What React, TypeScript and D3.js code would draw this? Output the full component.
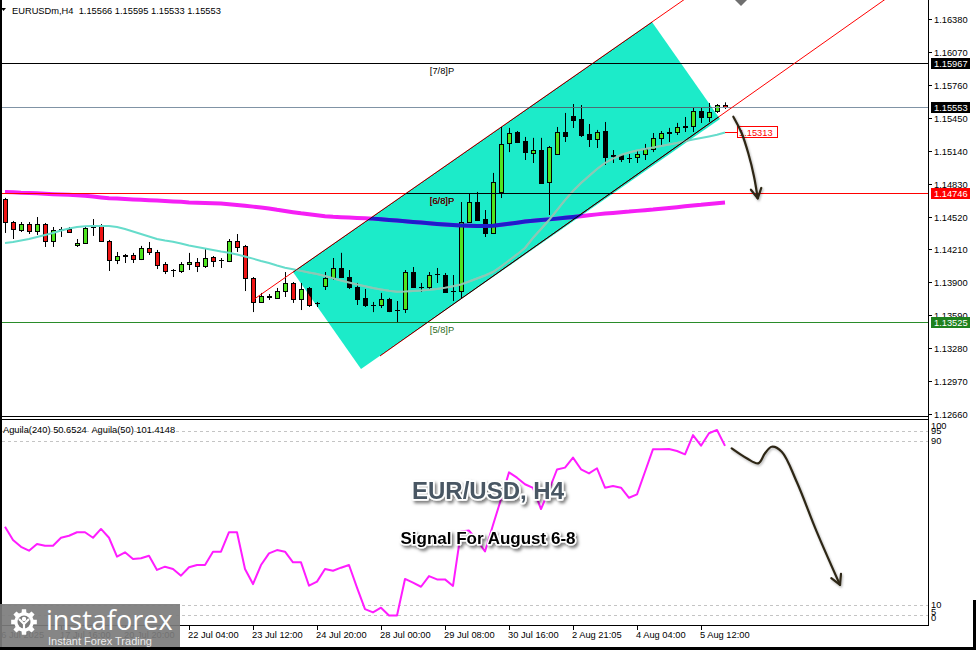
import { useEffect, useRef } from "react";
import * as d3 from "d3";

// EURUSDm H4 candles, bar 0 = left edge, bar 90 = last bar
const openP = [
  1.14685, 1.14468, 1.14393, 1.14449, 1.14384, 1.14449, 1.1429, 1.14402, 1.14402, 1.14252,
  1.14271, 1.14421, 1.1444, 1.1429, 1.1411, 1.14158, 1.14158, 1.1412, 1.14224, 1.14186,
  1.14072, 1.14016, 1.14007, 1.14072, 1.14091, 1.14054, 1.14139, 1.1411, 1.14101, 1.1429,
  1.14243, 1.13941, 1.13715, 1.13771, 1.13753, 1.13818, 1.13894, 1.13743, 1.13847, 1.13706,
  1.13866, 1.13941, 1.14035, 1.1395, 1.13856, 1.13753, 1.13687, 1.13687, 1.13743, 1.13639,
  1.13649, 1.13997, 1.13856, 1.13856, 1.13978, 1.13969, 1.13823, 1.13818, 1.14468, 1.14656,
  1.14496, 1.14365, 1.14751, 1.15212, 1.15316, 1.15231, 1.15118, 1.15146, 1.14845, 1.15109,
  1.15316, 1.15466, 1.15438, 1.15297, 1.1525, 1.15325, 1.15099, 1.15099, 1.15075, 1.1508,
  1.15108, 1.15156, 1.1526, 1.15316, 1.15316, 1.15372, 1.15372, 1.15514, 1.15457, 1.15514,
  1.15566,
];
const highP = [
  1.14695, 1.14478, 1.14468, 1.14468, 1.14515, 1.14459, 1.14421, 1.14421, 1.14421, 1.14308,
  1.14421, 1.14496, 1.14449, 1.14299, 1.14186, 1.14167, 1.14177, 1.14243, 1.1428, 1.14205,
  1.14091, 1.14025, 1.14091, 1.14177, 1.14129, 1.14214, 1.14148, 1.14129, 1.14308, 1.14355,
  1.14252, 1.1395, 1.138, 1.1379, 1.13847, 1.13997, 1.13903, 1.13894, 1.13856, 1.13715,
  1.13997, 1.14129, 1.14177, 1.14016, 1.13894, 1.13837, 1.13715, 1.138, 1.13753, 1.13724,
  1.14016, 1.14044, 1.13894, 1.13997, 1.14035, 1.13988, 1.13969, 1.14656, 1.14741, 1.14751,
  1.14581, 1.1493, 1.15363, 1.15354, 1.15325, 1.15269, 1.1526, 1.1526, 1.15184, 1.15363,
  1.15495, 1.15579, 1.1557, 1.15391, 1.15335, 1.1541, 1.15146, 1.15108, 1.15108, 1.15146,
  1.15203, 1.15306, 1.15325, 1.15354, 1.15401, 1.15457, 1.15551, 1.15551, 1.15589, 1.15579,
  1.15595,
];
const lowP = [
  1.14365, 1.14308, 1.14374, 1.14355, 1.14346, 1.14233, 1.14233, 1.14327, 1.14365, 1.14233,
  1.14261, 1.14337, 1.1428, 1.14007, 1.14072, 1.14082, 1.14082, 1.1411, 1.14158, 1.14025,
  1.13978, 1.1395, 1.13988, 1.14016, 1.13997, 1.14035, 1.14044, 1.14035, 1.14091, 1.14186,
  1.13818, 1.1362, 1.13706, 1.13734, 1.13743, 1.13762, 1.13706, 1.13639, 1.13668, 1.13668,
  1.13828, 1.13922, 1.13941, 1.13837, 1.13687, 1.13668, 1.1362, 1.13658, 1.1362, 1.1352,
  1.13611, 1.13847, 1.13809, 1.13837, 1.13894, 1.138, 1.13724, 1.13753, 1.14459, 1.14478,
  1.14327, 1.14355, 1.14694, 1.15127, 1.15212, 1.15052, 1.15024, 1.14826, 1.14534, 1.15099,
  1.15222, 1.15354, 1.15269, 1.15175, 1.15165, 1.15005, 1.15024, 1.15033, 1.15024, 1.15024,
  1.15052, 1.15127, 1.15193, 1.15222, 1.15288, 1.15316, 1.15316, 1.15401, 1.1541, 1.15495,
  1.15533,
];
const closeP = [
  1.14468, 1.14402, 1.14449, 1.14384, 1.14449, 1.1429, 1.14393, 1.14393, 1.14374, 1.14271,
  1.14412, 1.1444, 1.1429, 1.1411, 1.14148, 1.14148, 1.1412, 1.14224, 1.14186, 1.14063,
  1.14007, 1.14012, 1.14072, 1.14091, 1.14054, 1.14129, 1.14101, 1.14106, 1.1429, 1.14233,
  1.13941, 1.13715, 1.13771, 1.13762, 1.13818, 1.13894, 1.13743, 1.13837, 1.13687, 1.13701,
  1.13941, 1.14035, 1.1395, 1.13856, 1.13743, 1.13687, 1.13682, 1.13743, 1.1363, 1.13635,
  1.13997, 1.13856, 1.13852, 1.13969, 1.13974, 1.13809, 1.13818, 1.14468, 1.14656, 1.14487,
  1.14365, 1.14845, 1.15203, 1.15306, 1.15222, 1.15127, 1.15146, 1.14836, 1.15175, 1.15316,
  1.15278, 1.15429, 1.15288, 1.1525, 1.15316, 1.1508, 1.15094, 1.15061, 1.15071, 1.15108,
  1.15156, 1.1526, 1.15306, 1.15311, 1.15363, 1.15367, 1.15514, 1.15457, 1.15504, 1.1557,
  1.15553,
];

// slow moving average (thick magenta)
const maSlow = [
  1.14751, 1.14748, 1.14744, 1.14742, 1.14738, 1.14734, 1.1473, 1.14727, 1.14725, 1.14721,
  1.14715, 1.14708, 1.147, 1.14693, 1.14689, 1.14685, 1.14681, 1.14678, 1.14674, 1.1467,
  1.14667, 1.14662, 1.14658, 1.14653, 1.1465, 1.14647, 1.14645, 1.14642, 1.14635, 1.14629,
  1.14621, 1.14613, 1.14605, 1.14596, 1.14583, 1.14572, 1.14561, 1.1455, 1.14541, 1.14532,
  1.14523, 1.14517, 1.14514, 1.1451, 1.14506, 1.14503, 1.145, 1.14495, 1.14488, 1.14482,
  1.14476, 1.14469, 1.14463, 1.14456, 1.1445, 1.14445, 1.1444, 1.14436, 1.14433, 1.14431,
  1.14431, 1.14434, 1.14442, 1.14451, 1.14461, 1.14472, 1.1448, 1.14486, 1.14493, 1.145,
  1.14508, 1.14515, 1.14523, 1.14532, 1.1454, 1.14548, 1.14554, 1.14561, 1.14566, 1.14573,
  1.14579, 1.14585, 1.14593, 1.146, 1.14608, 1.14616, 1.14624, 1.1463, 1.14638, 1.14645,
  1.14651,
];
// fast moving average (thin turquoise)
const maFast = [
  1.14271, 1.1428, 1.14294, 1.14308, 1.14327, 1.14346, 1.14365, 1.14388, 1.14407, 1.14421,
  1.14428, 1.14431, 1.14431, 1.14431, 1.14421, 1.14402, 1.14379, 1.14355, 1.14332, 1.14308,
  1.14294, 1.14283, 1.14266, 1.14247, 1.14233, 1.14219, 1.14205, 1.14191, 1.14179, 1.14163,
  1.14144, 1.14123, 1.14101, 1.14082, 1.14058, 1.14037, 1.14023, 1.14008, 1.13992, 1.13978,
  1.1396, 1.13938, 1.13917, 1.13898, 1.1388, 1.13863, 1.13847, 1.13833, 1.1382, 1.13812,
  1.13814, 1.13818, 1.13823, 1.1383, 1.13837, 1.13849, 1.13863, 1.1388, 1.13908, 1.13936,
  1.13964, 1.13997, 1.14049, 1.14106, 1.14163, 1.14224, 1.14318, 1.14402, 1.14487, 1.14581,
  1.14675, 1.1476, 1.14836, 1.14902, 1.14968, 1.15024, 1.15066, 1.15099, 1.15123, 1.15142,
  1.15156, 1.1517, 1.15184, 1.15198, 1.15212, 1.15228, 1.15245, 1.15259, 1.15274, 1.1529,
  1.15311,
];
const maFastLabel = 1.15313;

// Aguila oscillator, 0..100
const aguila = [
  48.2, 41.7, 38.4, 36.5, 39.8, 38.9, 38.9, 42.8, 43.8, 45.5,
  45.5, 42.8, 47.1, 42.8, 33.6, 35.7, 32.4, 32.8, 34.0, 27.1,
  28.7, 27.6, 24.3, 28.4, 29.5, 29.5, 36.0, 36.0, 45.5, 45.5,
  27.6, 20.2, 29.5, 35.2, 36.8, 36.0, 30.8, 30.8, 19.4, 21.4,
  27.6, 26.7, 28.2, 29.5, 18.5, 8.0, 6.4, 8.7, 4.9, 4.9,
  22.7, 20.9, 18.9, 24.1, 22.5, 22.5, 19.3, 45.8, 46.3, 41.7,
  36.1, 49.0, 61.6, 74.7, 72.1, 68.9, 67.1, 56.8, 66.1, 76.1,
  77.0, 81.9, 76.2, 74.2, 76.7, 67.2, 68.0, 67.2, 62.3, 64.0,
  75.0, 86.0, 86.0, 86.1, 85.1, 83.5, 92.9, 87.7, 93.8, 95.4,
  87.6,
];
const aguilaLevels = [95, 90, 10, 5];
const aguilaTicks = [100, 95, 90, 10, 5, 0];

const priceTicks = [
  1.1638, 1.1607, 1.1576, 1.1545, 1.1514, 1.1483, 1.1452, 1.1421, 1.139, 1.1359, 1.1328,
  1.1297, 1.1266,
];
const timeBars = [-1, 7, 15, 23, 31, 39, 47, 55, 63, 71, 79, 87];
const timeLabels = [
  "16 Jul 2025", "17 Jul 16:00", "20 Jul 20:00", "22 Jul 04:00", "23 Jul 12:00",
  "24 Jul 20:00", "28 Jul 00:00", "29 Jul 08:00", "30 Jul 16:00", "2 Aug 21:05",
  "4 Aug 04:00", "5 Aug 12:00",
];

// horizontal levels: [7/8] line, bid, [6/8] line, [5/8] line
const levelPrices = [1.15967, 1.15553, 1.14746, 1.13525];
const murreyPrices = [1.15967, 1.14746, 1.13525];
const murreyLabels = ["[7/8]P", "[6/8]P", "[5/8]P"];
const murreyBar = 53.1;

// rising channel rectangle and its two trendlines (bar, price)
const channelBars = [36, 80.875, 89.375, 44.5];
const channelPrices = [1.13997, 1.16352, 1.15438, 1.13084];
const upperTrendBars = [31, 80.875];
const upperTrendPrices = [1.13734, 1.16352];
const lowerTrendBars = [46.875, 89.375];
const lowerTrendPrices = [1.13206, 1.15467];

// hand drawn forecast arrows
const arrowPriceBars = [91.04, 92.09, 92.91, 93.63, 94.09];
const arrowPrices = [1.1546, 1.15304, 1.15115, 1.14895, 1.14691];
const arrowIndBars = [90.84, 92.71, 94.16, 95.0, 95.84, 97.09, 98.96, 101.46, 104.375];
const arrowIndValues = [86.4, 81.6, 79.1, 84.0, 87.2, 84.8, 70.1, 45.8, 19.8];

const W = 976;
const H = 650;

export default function App() {
  const ref = useRef<SVGSVGElement | null>(null);

  useEffect(() => {
    const svg = d3.select(ref.current);
    svg.selectAll("*").remove();

    const font = "'Liberation Sans', Arial, sans-serif";
    const fs = 9.3;
    const plotL = 2;
    const plotR = 928;
    const mainB = 416;
    const indT = 420;
    const indB = 626;

    const x = d3.scaleLinear().domain([0, 90]).range([5, 725]);
    const y = d3.scaleLinear().domain([1.1266, 1.1638]).range([414, 19]);
    const yi = d3.scaleLinear().domain([0, 100]).range([625.5, 420.5]);
    const bars = d3.range(openP.length);
    const crisp = (v: number) => Math.round(v) + 0.5;

    svg.append("rect").attr("width", W).attr("height", H).attr("fill", "#fff");

    const defs = svg.append("defs");
    defs
      .append("clipPath")
      .attr("id", "clipMain")
      .append("rect")
      .attr("x", plotL)
      .attr("y", 0)
      .attr("width", plotR - plotL)
      .attr("height", mainB);
    defs
      .append("clipPath")
      .attr("id", "clipInd")
      .append("rect")
      .attr("x", plotL)
      .attr("y", indT)
      .attr("width", plotR - plotL)
      .attr("height", indB - indT);
    const chan = channelBars.map((b, i) => [x(b), y(channelPrices[i])]);
    const chanD = "M" + chan.map((p) => p.join(",")).join("L") + "Z";
    defs.append("clipPath").attr("id", "clipChan").append("path").attr("d", chanD);

    const tShadow = defs
      .append("filter")
      .attr("id", "txtShadow")
      .attr("x", "-10%")
      .attr("y", "-40%")
      .attr("width", "125%")
      .attr("height", "190%");
    tShadow
      .append("feDropShadow")
      .attr("dx", 2)
      .attr("dy", 2.5)
      .attr("stdDeviation", 1.6)
      .attr("flood-color", "#000")
      .attr("flood-opacity", 0.5);
    const aShadow = defs
      .append("filter")
      .attr("id", "arrShadow")
      .attr("x", "-20%")
      .attr("y", "-20%")
      .attr("width", "140%")
      .attr("height", "140%");
    aShadow
      .append("feDropShadow")
      .attr("dx", 1)
      .attr("dy", 1.5)
      .attr("stdDeviation", 1)
      .attr("flood-color", "#000")
      .attr("flood-opacity", 0.3);

    // ---------- main price panel ----------
    const main = svg.append("g").attr("clip-path", "url(#clipMain)");
    main.append("path").attr("d", chanD).attr("fill", "#1cebc9");

    type Pal = Record<string, string>;
    const outside: Pal = {
      bull: "#4fe41f",
      bear: "#ee1414",
      slow: "#f51ff5",
      fast: "#66dccb",
      red: "#ff0000",
      bid: "#8093a5",
      green: "#2a8c2a",
      greenText: "#2d6a1e",
      black: "#000",
    };
    // colours the terminal shows where objects overlap the filled channel
    const inside: Pal = {
      bull: "#4fe41f",
      bear: "#000",
      slow: "#1d1dcc",
      fast: "#8ec6b3",
      red: "#000",
      bid: "#4d6d74",
      green: "#1f5a1f",
      greenText: "#1f4a14",
      black: "#000",
    };

    const ray = (bs: number[], ps: number[]) => {
      const x0 = x(bs[0]);
      const y0 = y(ps[0]);
      const x1 = x(bs[1]);
      const y1 = y(ps[1]);
      const t = (y0 + 2) / (y0 - y1);
      return [x0, y0, x0 + (x1 - x0) * t, -2];
    };

    const drawLayer = (g: d3.Selection<SVGGElement, unknown, null, undefined>, c: Pal) => {
      bars.forEach((i) => {
        const cx = crisp(x(i));
        const o = openP[i];
        const cl = closeP[i];
        g.append("line")
          .attr("x1", cx)
          .attr("x2", cx)
          .attr("y1", y(highP[i]))
          .attr("y2", y(lowP[i]))
          .attr("stroke", "#000");
        const top = crisp(y(Math.max(o, cl)));
        const bot = crisp(y(Math.min(o, cl)));
        if (bot - top < 1) {
          g.append("line")
            .attr("x1", cx - 2.5)
            .attr("x2", cx + 2.5)
            .attr("y1", top)
            .attr("y2", top)
            .attr("stroke", "#000");
        } else {
          g.append("rect")
            .attr("x", cx - 2)
            .attr("y", top)
            .attr("width", 4)
            .attr("height", bot - top)
            .attr("fill", cl >= o ? c.bull : c.bear)
            .attr("stroke", "#000");
        }
      });

      const line = d3
        .line<number>()
        .x((_, i) => x(i))
        .y((v) => y(v));
      g.append("path")
        .attr("d", line(maSlow) as string)
        .attr("fill", "none")
        .attr("stroke", c.slow)
        .attr("stroke-width", 4);
      g.append("path")
        .attr("d", line(maFast) as string)
        .attr("fill", "none")
        .attr("stroke", c.fast)
        .attr("stroke-width", 2);

      const levelColors = [c.black, c.bid, c.red, c.green];
      levelPrices.forEach((p, k) => {
        const yy = crisp(y(p));
        g.append("line")
          .attr("x1", plotL)
          .attr("x2", plotR)
          .attr("y1", yy)
          .attr("y2", yy)
          .attr("stroke", levelColors[k]);
      });

      [ray(upperTrendBars, upperTrendPrices), ray(lowerTrendBars, lowerTrendPrices)].forEach(
        ([x1, y1, x2, y2]) => {
          g.append("line")
            .attr("x1", x1)
            .attr("y1", y1)
            .attr("x2", x2)
            .attr("y2", y2)
            .attr("stroke", c.red);
        }
      );

      const murreyColors = [c.black, c.red, c.greenText];
      murreyPrices.forEach((p, k) => {
        g.append("text")
          .attr("x", x(murreyBar))
          .attr("y", y(p) + 11)
          .attr("font-family", font)
          .attr("font-size", fs)
          .attr("fill", murreyColors[k])
          .text(murreyLabels[k]);
      });
    };

    drawLayer(main.append("g"), outside);
    drawLayer(main.append("g").attr("clip-path", "url(#clipChan)"), inside);

    // fast MA value label
    const lastX = x(bars.length - 1);
    const labY = y(maFastLabel);
    main
      .append("line")
      .attr("x1", lastX)
      .attr("x2", lastX + 12)
      .attr("y1", crisp(labY))
      .attr("y2", crisp(labY))
      .attr("stroke", "#ff0000");
    main
      .append("rect")
      .attr("x", crisp(lastX + 12))
      .attr("y", crisp(labY - 6))
      .attr("width", 40)
      .attr("height", 11)
      .attr("fill", "#fff")
      .attr("stroke", "#ff0000");
    main
      .append("text")
      .attr("x", lastX + 14)
      .attr("y", labY + 3.4)
      .attr("font-family", font)
      .attr("font-size", fs)
      .attr("fill", "#ff0000")
      .text(maFastLabel.toFixed(5));

    const arrowHead = (pts: number[][]) => {
      const [tx, ty] = pts[pts.length - 1];
      const [px, py] = pts[pts.length - 2];
      const a = Math.atan2(ty - py, tx - px);
      const len = 11;
      const spread = 0.5;
      return [
        [tx - len * Math.cos(a - spread), ty - len * Math.sin(a - spread)],
        [tx, ty],
        [tx - len * Math.cos(a + spread), ty - len * Math.sin(a + spread)],
      ];
    };
    const drawArrow = (
      g: d3.Selection<SVGGElement, unknown, null, undefined>,
      pts: number[][]
    ) => {
      const a = g.append("g").attr("filter", "url(#arrShadow)");
      const curve = d3
        .line<number[]>()
        .x((d) => d[0])
        .y((d) => d[1])
        .curve(d3.curveCatmullRom.alpha(0.5));
      a.append("path")
        .attr("d", curve(pts) as string)
        .attr("fill", "none")
        .attr("stroke", "#2d2714")
        .attr("stroke-width", 2.2)
        .attr("stroke-linecap", "round");
      a.append("path")
        .attr("d", d3.line()(arrowHead(pts) as [number, number][]) as string)
        .attr("fill", "none")
        .attr("stroke", "#2d2714")
        .attr("stroke-width", 2.2)
        .attr("stroke-linecap", "round")
        .attr("stroke-linejoin", "round");
    };
    drawArrow(
      main,
      arrowPriceBars.map((b, i) => [x(b), y(arrowPrices[i])])
    );

    // ---------- Aguila panel ----------
    const ind = svg.append("g").attr("clip-path", "url(#clipInd)");
    aguilaLevels.forEach((v) => {
      const yy = crisp(yi(v));
      ind
        .append("line")
        .attr("x1", plotL)
        .attr("x2", plotR)
        .attr("y1", yy)
        .attr("y2", yy)
        .attr("stroke", "#c4c4c4")
        .attr("stroke-dasharray", "3,3");
    });
    ind
      .append("path")
      .attr(
        "d",
        d3
          .line<number>()
          .x((_, i) => x(i))
          .y((v) => yi(v))(aguila) as string
      )
      .attr("fill", "none")
      .attr("stroke", "#ff1cff")
      .attr("stroke-width", 2)
      .attr("stroke-linejoin", "round");
    ind
      .append("text")
      .attr("x", 3)
      .attr("y", 432.5)
      .attr("font-family", font)
      .attr("font-size", fs)
      .attr("fill", "#000")
      .style("white-space", "pre")
      .text("Aguila(240) 50.6524  Aguila(50) 101.4148");
    drawArrow(
      ind,
      arrowIndBars.map((b, i) => [x(b), yi(arrowIndValues[i])])
    );

    // ---------- frames and axes ----------
    const frame = svg.append("g").attr("stroke", "#000");
    frame.append("line").attr("x1", plotR + 0.5).attr("x2", plotR + 0.5).attr("y1", 0).attr("y2", indB);
    [mainB + 0.5, indT - 0.5, indB - 0.5].forEach((yy) => {
      frame.append("line").attr("x1", 0).attr("x2", plotR + 1).attr("y1", yy).attr("y2", yy);
    });

    const axisText = (sel: d3.Selection<SVGTextElement, unknown, null, undefined>) =>
      sel.attr("font-family", font).attr("font-size", fs);

    priceTicks.forEach((p) => {
      const yy = crisp(y(p));
      svg
        .append("line")
        .attr("x1", plotR)
        .attr("x2", plotR + 4)
        .attr("y1", yy)
        .attr("y2", yy)
        .attr("stroke", "#000");
      axisText(svg.append("text"))
        .attr("x", 934)
        .attr("y", yy + 3.3)
        .attr("fill", "#000")
        .text(p.toFixed(5));
    });

    const boxColors = ["#000", "#000", "#ff0000", "#1d811d"];
    levelPrices.forEach((p, k) => {
      const yy = y(p);
      svg
        .append("rect")
        .attr("x", 931)
        .attr("y", Math.round(yy) - 5)
        .attr("width", 39)
        .attr("height", 11)
        .attr("fill", boxColors[k]);
      axisText(svg.append("text"))
        .attr("x", 934)
        .attr("y", Math.round(yy) + 3.8)
        .attr("fill", "#fff")
        .text(p.toFixed(5));
    });

    // oscillator scale labels, squeezed at the panel ends like the terminal does
    aguilaTicks.forEach((v) => {
      const yy = v === 5 ? yi(v) - 4 : Math.min(Math.max(yi(v), 426), 618);
      axisText(svg.append("text"))
        .attr("x", 931)
        .attr("y", yy + 3.3)
        .attr("fill", "#000")
        .text(String(v));
    });

    timeBars.forEach((b, k) => {
      const xx = crisp(x(b));
      svg
        .append("line")
        .attr("x1", xx)
        .attr("x2", xx)
        .attr("y1", indB)
        .attr("y2", indB + 4)
        .attr("stroke", "#000");
      axisText(svg.append("text"))
        .attr("x", xx - 1.5)
        .attr("y", 637.5)
        .attr("fill", "#000")
        .text(timeLabels[k]);
    });

    // header
    svg
      .append("path")
      .attr("d", "M1,8L6,8L3.5,11Z")
      .attr("fill", "#000");
    axisText(svg.append("text"))
      .attr("x", 12)
      .attr("y", 13.5)
      .attr("fill", "#000")
      .style("white-space", "pre")
      .text("EURUSDm,H4  1.15566 1.15595 1.15533 1.15553");
    svg
      .append("path")
      .attr("d", `M${x(92) - 6},0L${x(92) + 6},0L${x(92)},6Z`)
      .attr("fill", "#6f6f6f");

    // titles
    svg
      .append("text")
      .attr("x", 488)
      .attr("y", 499)
      .attr("text-anchor", "middle")
      .attr("font-family", font)
      .attr("font-weight", 700)
      .attr("font-size", 24)
      .attr("fill", "#485764")
      .attr("stroke", "#fff")
      .attr("stroke-width", 3.5)
      .attr("stroke-linejoin", "round")
      .attr("paint-order", "stroke")
      .attr("filter", "url(#txtShadow)")
      .text("EUR/USD, H4");
    svg
      .append("text")
      .attr("x", 488)
      .attr("y", 544)
      .attr("text-anchor", "middle")
      .attr("font-family", font)
      .attr("font-weight", 700)
      .attr("font-size", 17)
      .attr("fill", "#000")
      .attr("stroke", "#fff")
      .attr("stroke-width", 3)
      .attr("stroke-linejoin", "round")
      .attr("paint-order", "stroke")
      .attr("filter", "url(#txtShadow)")
      .text("Signal For August 6-8");

    // outer border
    svg.append("rect").attr("x", 0).attr("y", 0).attr("width", 2).attr("height", H).attr("fill", "#000");
    svg.append("rect").attr("x", 0).attr("y", 647).attr("width", W).attr("height", 3).attr("fill", "#000");
    svg.append("rect").attr("x", 973).attr("y", 600).attr("width", 3).attr("height", 50).attr("fill", "#000");

    // broker logo
    const logo = svg.append("g");
    logo
      .append("rect")
      .attr("x", 0)
      .attr("y", 604)
      .attr("width", 180)
      .attr("height", 43)
      .attr("fill", "#7c7c7c")
      .attr("opacity", 0.92);
    const gx = 24;
    const gy = 622;
    const teeth = 8;
    const step = Math.PI / teeth;
    const gearPts: [number, number][] = [];
    for (let k = 0; k < teeth; k++) {
      const a = k * 2 * step;
      gearPts.push([a - step * 0.42, 13], [a + step * 0.42, 13], [a + step * 0.62, 9.8], [a + step * 1.38, 9.8]);
    }
    logo
      .append("path")
      .attr(
        "d",
        d3
          .lineRadial<[number, number]>()
          .angle((d) => d[0])
          .radius((d) => d[1])
          .curve(d3.curveLinearClosed)(gearPts) as string
      )
      .attr("transform", `translate(${gx},${gy})`)
      .attr("fill", "#fff");
    logo.append("circle").attr("cx", gx).attr("cy", gy).attr("r", 6.5).attr("fill", "#7c7c7c");
    logo.append("circle").attr("cx", gx).attr("cy", gy - 3).attr("r", 2.2).attr("fill", "#fff");
    logo
      .append("path")
      .attr("d", `M${gx - 5},${gy - 3}L${gx},${gy + 2}L${gx + 5},${gy - 3}M${gx},${gy + 2}L${gx},${gy + 9}`)
      .attr("stroke", "#fff")
      .attr("stroke-width", 2.2)
      .attr("fill", "none");
    logo
      .append("text")
      .attr("x", 46)
      .attr("y", 630)
      .attr("font-family", "'Open Sans', 'DejaVu Sans', sans-serif")
      .attr("font-size", 27)
      .attr("fill", "#fff")
      .text("instaforex");
    logo
      .append("text")
      .attr("x", 48)
      .attr("y", 644.5)
      .attr("font-family", font)
      .attr("font-size", 11)
      .attr("fill", "#ececec")
      .text("Instant Forex Trading");
  }, []);

  return (
    <div style={{ position: "absolute", left: 0, top: 0 }}>
      <svg ref={ref} width={W} height={H} style={{ display: "block" }} />
    </div>
  );
}
